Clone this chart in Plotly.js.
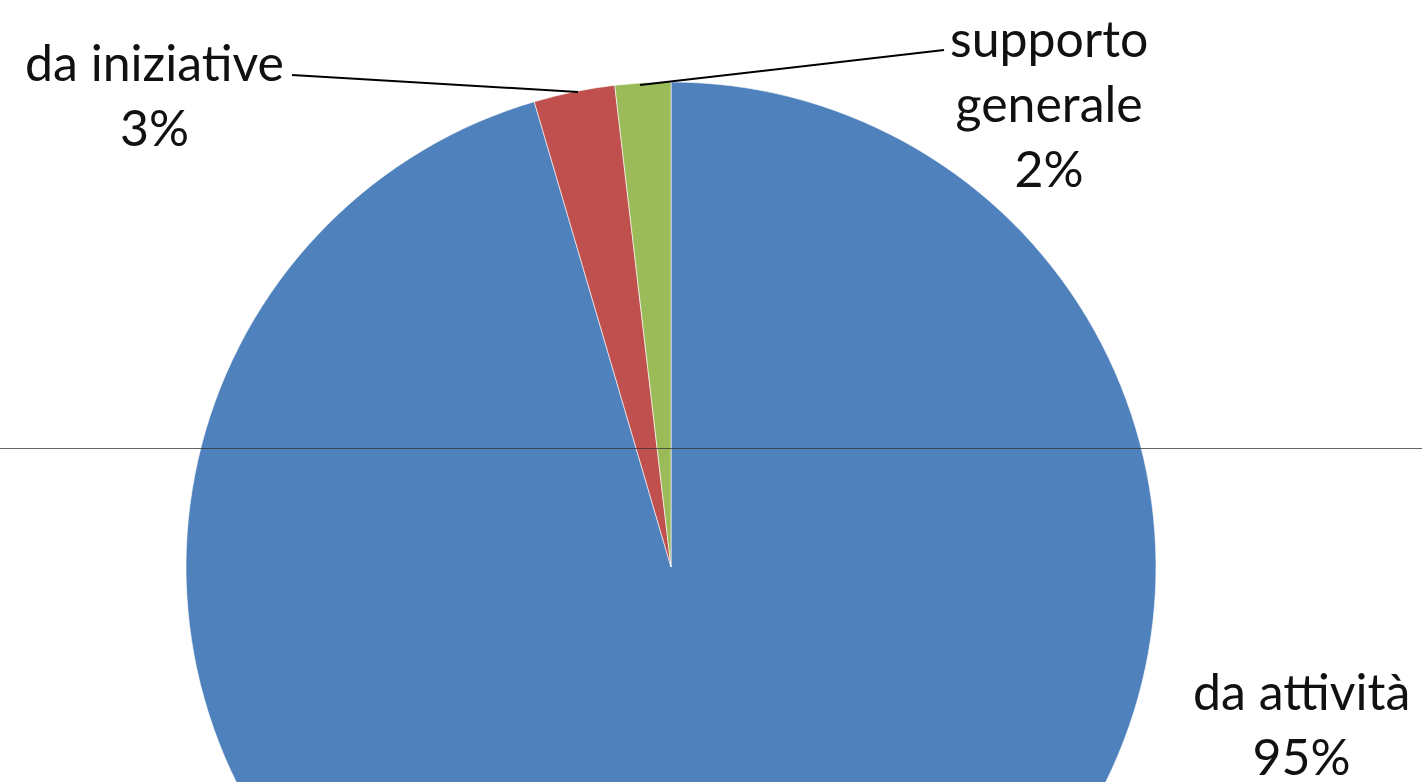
<!DOCTYPE html>
<html>
<head>
<meta charset="utf-8">
<script src="https://cdn.plot.ly/plotly-3.0.1.min.js"></script>
<style>
html,body{margin:0;padding:0;overflow:hidden;background:#fff;width:1422px;height:782px;}
#chart{width:1422px;height:1200px;}
</style>
</head>
<body>
<div id="chart"></div>
<script>
var categories = ["da attività", "da iniziative", "supporto generale"];
var values = [95.45, 2.7, 1.85];
var colors = ["#4F81BD", "#C0504D", "#9BBB59"];

var W = 1422, H = 1200;
function px(x){ return x / W; }
function py(y){ return 1 - y / H; }

var total = values.reduce(function(a,b){return a+b;}, 0);
var pct = values.map(function(v){ return Math.round(v / total * 100) + "%"; });

var font = {family: "Lato, 'Open Sans', sans-serif", size: 50, color: "#111"};

var labelText = [
  "da attività<br>" + pct[0],
  "da iniziative<br>" + pct[1],
  "supporto<br>generale<br>" + pct[2]
];

var trace = {
  type: "pie",
  labels: categories,
  values: values,
  sort: false,
  direction: "clockwise",
  rotation: 0,
  textinfo: "none",
  hoverinfo: "none",
  automargin: false,
  marker: {colors: colors, line: {color: "rgba(255,255,255,0.6)", width: 1}},
  domain: {x: [px(186), px(1156)], y: [py(1052), py(82)]},
  showlegend: false
};

var layout = {
  width: W, height: H,
  margin: {l: 0, r: 0, t: 0, b: 0},
  paper_bgcolor: "#fff",
  showlegend: false,
  annotations: [
    {text: labelText[0], x: px(1301), y: py(723), xref: "paper", yref: "paper", showarrow: false, font: font, align: "center", xanchor: "center", yanchor: "middle"},
    {text: labelText[1], x: px(154), y: py(94), xref: "paper", yref: "paper", showarrow: false, font: font, align: "center", xanchor: "center", yanchor: "middle"},
    {text: labelText[2], x: px(1049), y: py(103), xref: "paper", yref: "paper", showarrow: false, font: font, align: "center", xanchor: "center", yanchor: "middle"}
  ],
  shapes: [
    {type: "line", xref: "paper", yref: "paper", x0: px(292), y0: py(75), x1: px(578), y1: py(92), line: {color: "#000", width: 2}},
    {type: "line", xref: "paper", yref: "paper", x0: px(944), y0: py(50), x1: px(640), y1: py(85), line: {color: "#000", width: 2}},
    {type: "line", xref: "paper", yref: "paper", x0: 0, y0: py(448.5), x1: 1, y1: py(448.5), line: {color: "rgba(50,50,50,0.75)", width: 1}}
  ]
};

Plotly.newPlot("chart", [trace], layout, {displayModeBar: false, staticPlot: true});
</script>
</body>
</html>
